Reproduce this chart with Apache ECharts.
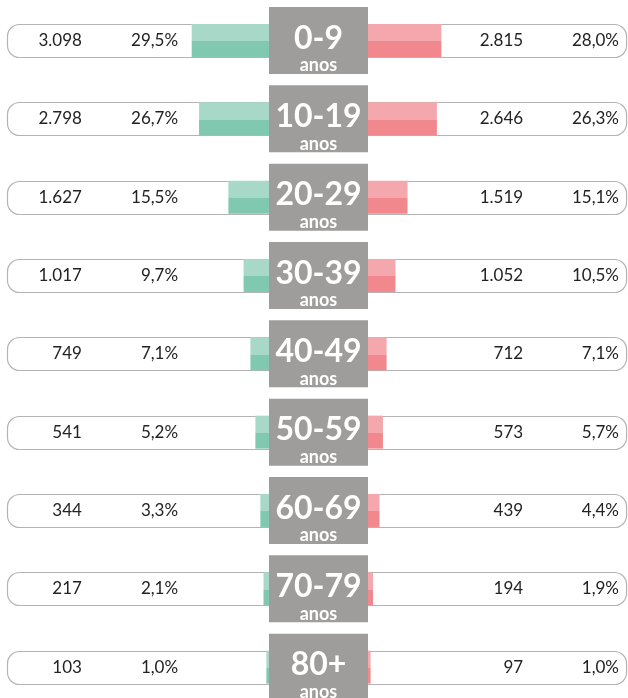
<!DOCTYPE html>
<html><head><meta charset="utf-8">
<script src="https://cdn.jsdelivr.net/npm/echarts@6/dist/echarts.min.js"></script>
<style>html,body{margin:0;padding:0;background:#fff}#c{width:628px;height:698px}</style>
</head><body><div id="c"></div>
<script>
// ---- data ----
var categories = ['0-9','10-19','20-29','30-39','40-49','50-59','60-69','70-79','80+'];
var leftCounts = [3098, 2798, 1627, 1017, 749, 541, 344, 217, 103];
var leftPct    = [29.5, 26.7, 15.5, 9.7, 7.1, 5.2, 3.3, 2.1, 1.0];
var rightCounts = [2815, 2646, 1519, 1052, 712, 573, 439, 194, 97];
var rightPct    = [28.0, 26.3, 15.1, 10.5, 7.1, 5.7, 4.4, 1.9, 1.0];
var unitLabel = 'anos';

// ---- layout constants ----
var PX = 2.62;            // pixels per percent
var HALF_BOX = 49.5;
var CENTER_X = 318.5;
var GAP = HALF_BOX / PX;  // axis units hidden under center box
var FONT = 'Lato, "Open Sans", sans-serif';

function fmtCount(n){ return String(n).replace(/\B(?=(\d{3})+(?!\d))/g, '.'); }
function fmtPct(p){ return p.toFixed(1).replace('.', ',') + '%'; }

var chart = echarts.init(document.getElementById('c'), null, {renderer:'canvas'});

function grad(light, dark){
  return new echarts.graphic.LinearGradient(0,0,0,1,[
    {offset:0,color:light},{offset:0.53,color:light},
    {offset:0.53,color:dark},{offset:1,color:dark}]);
}

function pillItem(side){
  return function(params, api){
    var idx = api.value(1);
    var cnt = api.value(2), pct = api.value(3);
    var h = 33;
    var outerVal = side === 'left' ? 100 : 98.5;
    var pOuter = api.coord([outerVal, idx]);
    var pInner = api.coord([-GAP * 0.6, idx]);
    var cy = pOuter[1];
    var x0 = Math.min(pOuter[0], pInner[0]), x1 = Math.max(pOuter[0], pInner[0]);
    var r = side === 'left' ? [12,0,0,12] : [0,12,12,0];
    var cntPos = api.coord([side === 'left' ? 71.4 : 59.2, idx]);
    var pctPos = api.coord([side === 'left' ? 34.7 : 95.8, idx]);
    return {
      type:'group',
      children:[
        {type:'rect', shape:{x:x0+0.5, y:Math.round(cy - h/2)+0.5, width:x1-x0, height:h, r:r},
         style:{fill:'#fff', stroke:'#b4b4b4', lineWidth:1.2}},
        {type:'text', x:cntPos[0], y:cy, style:{text:fmtCount(cnt), fill:'#222', font:'17px ' + FONT, textAlign:'right', textVerticalAlign:'middle'}},
        {type:'text', x:pctPos[0], y:cy, style:{text:fmtPct(pct), fill:'#222', font:'17px ' + FONT, textAlign:'right', textVerticalAlign:'middle'}}
      ]
    };
  };
}

function boxItem(params, api){
  var idx = api.value(1);
  var p = api.coord([-GAP, idx]);
  var cx = p[0], cy = p[1];
  return {
    type:'group',
    children:[
      {type:'rect', shape:{x:cx-HALF_BOX, y:cy-33.5, width:HALF_BOX*2, height:67},
       style:{fill:'#9e9d9b'}},
      {type:'text', x:cx, y:cy-2, style:{text:categories[idx], fill:'#fff', font:'bold 32px ' + FONT, textAlign:'center', textVerticalAlign:'middle'}},
      {type:'text', x:cx, y:cy+25, style:{text:unitLabel, fill:'#fff', font:'bold 18px ' + FONT, textAlign:'center', textVerticalAlign:'middle'}}
    ]
  };
}

var leftData = categories.map(function(c,i){ return [0, i, leftCounts[i], leftPct[i]]; });
var rightData = categories.map(function(c,i){ return [0, i, rightCounts[i], rightPct[i]]; });
var boxData = categories.map(function(c,i){ return [0, i]; });

var gridTop = 1.3, gridH = 705;
chart.setOption({
  animation:false,
  grid:[
    {left:7, top:gridTop, width:CENTER_X-7, height:gridH, outerBoundsMode:'none', containLabel:false},
    {left:CENTER_X, top:gridTop, width:628-CENTER_X, height:gridH, outerBoundsMode:'none', containLabel:false}
  ],
  xAxis:[
    {gridIndex:0, type:'value', inverse:true, min:-GAP, max:100, show:false, splitLine:{show:false}},
    {gridIndex:1, type:'value', min:-GAP, max:-GAP + (628-CENTER_X)/PX, show:false, splitLine:{show:false}}
  ],
  yAxis:[
    {gridIndex:0, type:'category', data:categories, inverse:true, show:false},
    {gridIndex:1, type:'category', data:categories, inverse:true, show:false}
  ],
  series:[
    {type:'custom', xAxisIndex:0, yAxisIndex:0, data:leftData, renderItem:pillItem('left'), z:1, clip:false, silent:true},
    {type:'custom', xAxisIndex:1, yAxisIndex:1, data:rightData, renderItem:pillItem('right'), z:1, clip:false, silent:true},
    {type:'bar', xAxisIndex:0, yAxisIndex:0, data:leftPct, barWidth:33, z:3,
     itemStyle:{color:grad('#a8d8c8','#80c8b0')}},
    {type:'bar', xAxisIndex:1, yAxisIndex:1, data:rightPct, barWidth:33, z:3,
     itemStyle:{color:grad('#f4a8ae','#f0888e')}},
    {type:'custom', xAxisIndex:0, yAxisIndex:0, data:boxData, renderItem:boxItem, z:10, clip:false, silent:true}
  ]
});
</script></body></html>
